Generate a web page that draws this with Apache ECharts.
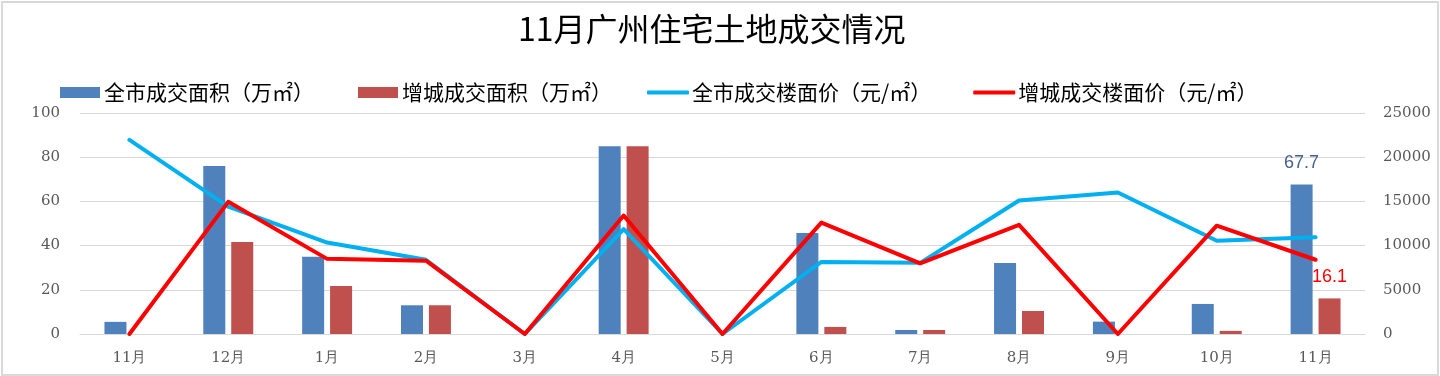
<!DOCTYPE html>
<html>
<head>
<meta charset="utf-8">
<script src="https://cdn.jsdelivr.net/npm/echarts@6/dist/echarts.min.js"></script>
<style>
  html, body { margin: 0; padding: 0; background: #fff; }
  #chart { position: absolute; left: 0; top: 0; width: 1440px; height: 376px; }
  #frame { position: absolute; left: 1px; top: 1px; width: 1434px; height: 371px; border: 2px solid #d9d9d9; pointer-events: none; }
</style>
</head>
<body>
<div id="chart"></div>
<div id="frame"></div>
<script>
const months = ['11月', '12月', '1月', '2月', '3月', '4月', '5月', '6月', '7月', '8月', '9月', '10月', '11月'];

// 成交面积（万㎡）
const cityArea = [5.5, 76, 35, 13, 0, 85, 0, 45.7, 1.8, 32.1, 5.6, 13.6, 67.7];
const zengchengArea = [0, 41.6, 21.7, 13, 0, 85, 0, 3.2, 1.8, 10.4, 0, 1.4, 16.1];

// 成交楼面价（元/㎡）
const cityPrice = [21950, 14400, 10350, 8400, 0, 11850, 0, 8150, 8050, 15100, 16000, 10550, 10950];
const zengchengPrice = [0, 14950, 8500, 8300, 0, 13400, 0, 12600, 8000, 12350, 0, 12250, 8400];

const names = ['全市成交面积（万㎡）', '增城成交面积（万㎡）', '全市成交楼面价（元/㎡）', '增城成交楼面价（元/㎡）'];

const axisFont = { fontFamily: 'DejaVu Serif', fontSize: 15, color: '#595959' };
const cjkFont = '"Noto Sans CJK SC", "Noto Sans", sans-serif';

// only the last point gets a value label
function labelLast(values, color) {
    return values.map((v, i) => i === values.length - 1
        ? { value: v, label: { show: true, position: 'top', distance: 12, color: color, fontSize: 18, fontFamily: 'Liberation Sans' } }
        : v);
}

const chart = echarts.init(document.getElementById('chart'));

chart.setOption({
    animation: false,
    title: {
        text: '11月广州住宅土地成交情况',
        left: 513,
        top: 8,
        textStyle: { fontFamily: cjkFont, fontSize: 32, fontWeight: 'normal', color: '#000' }
    },
    legend: [
        {
            data: [names[0], names[1]],
            left: 55,
            top: 77,
            icon: 'rect',
            itemWidth: 40,
            itemHeight: 11,
            itemGap: 44,
            textStyle: { fontFamily: cjkFont, fontSize: 21, color: '#000', padding: [0, 0, 0, -1] }
        },
        {
            data: [names[2], names[3]],
            left: 642,
            top: 77,
            icon: 'roundRect',
            itemWidth: 42,
            itemHeight: 4,
            itemGap: 42,
            textStyle: { fontFamily: cjkFont, fontSize: 21, color: '#000', padding: [0, 0, 0, -2] }
        }
    ],
    grid: { left: 80, right: 75, top: 113, bottom: 42 },
    xAxis: {
        type: 'category',
        data: months,
        axisTick: { show: false },
        axisLine: { lineStyle: { color: '#d9d9d9', width: 1 } },
        axisLabel: Object.assign({ margin: 17 }, axisFont)
    },
    yAxis: [
        {
            type: 'value',
            min: 0,
            max: 100,
            interval: 20,
            axisLine: { show: false },
            axisTick: { show: false },
            splitLine: { lineStyle: { color: '#d9d9d9', width: 1 } },
            axisLabel: Object.assign({ margin: 20 }, axisFont)
        },
        {
            type: 'value',
            min: 0,
            max: 25000,
            interval: 5000,
            axisLine: { show: false },
            axisTick: { show: false },
            splitLine: { show: false },
            axisLabel: Object.assign({ margin: 18, formatter: v => String(v) }, axisFont)
        }
    ],
    series: [
        {
            name: names[0],
            type: 'bar',
            data: labelLast(cityArea, '#44618f'),
            barWidth: 22,
            barGap: '27%',
            itemStyle: { color: '#4f81bd' }
        },
        {
            name: names[1],
            type: 'bar',
            data: labelLast(zengchengArea, '#ff0000'),
            barWidth: 22,
            barGap: '27%',
            itemStyle: { color: '#c0504d' }
        },
        {
            name: names[2],
            type: 'line',
            yAxisIndex: 1,
            data: cityPrice,
            symbol: 'none',
            lineStyle: { color: '#00b0f0', width: 4, join: 'round', cap: 'round' },
            itemStyle: { color: '#00b0f0' }
        },
        {
            name: names[3],
            type: 'line',
            yAxisIndex: 1,
            data: zengchengPrice,
            symbol: 'none',
            lineStyle: { color: '#ff0000', width: 4, join: 'round', cap: 'round' },
            itemStyle: { color: '#ff0000' }
        }
    ]
});
</script>
</body>
</html>
